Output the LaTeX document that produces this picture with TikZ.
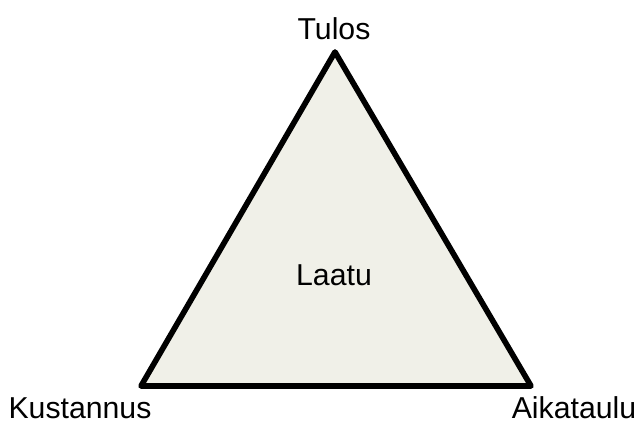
\documentclass[tikz,border=0pt]{standalone}
\usepackage{fontspec}
\setmainfont{Liberation Sans}
\usepackage{xcolor}
\definecolor{laatufill}{HTML}{F0F0E8}

\begin{document}
\begin{tikzpicture}[font=\fontsize{21.5}{26}\selectfont,line join=round]
\useasboundingbox (0,0) rectangle (16.025,10.575);
% kolmion karjet
\coordinate (top) at (8.375,9.275);
\coordinate (left) at (3.525,0.925);
\coordinate (right) at (13.275,0.925);
\draw[line width=4pt,fill=laatufill] (top) -- (left) -- (right) -- cycle;
% tekstit
\node (tulos) at (8.35,9.85) {Tulos};
\node (laatu) at (8.35,3.7) {Laatu};
\node (kustannus) at (2.0,0.38) {Kustannus};
\node[inner sep=0pt] (aikataulu) at (14.35,0.38) {Aikataulu};
\end{tikzpicture}
\end{document}
